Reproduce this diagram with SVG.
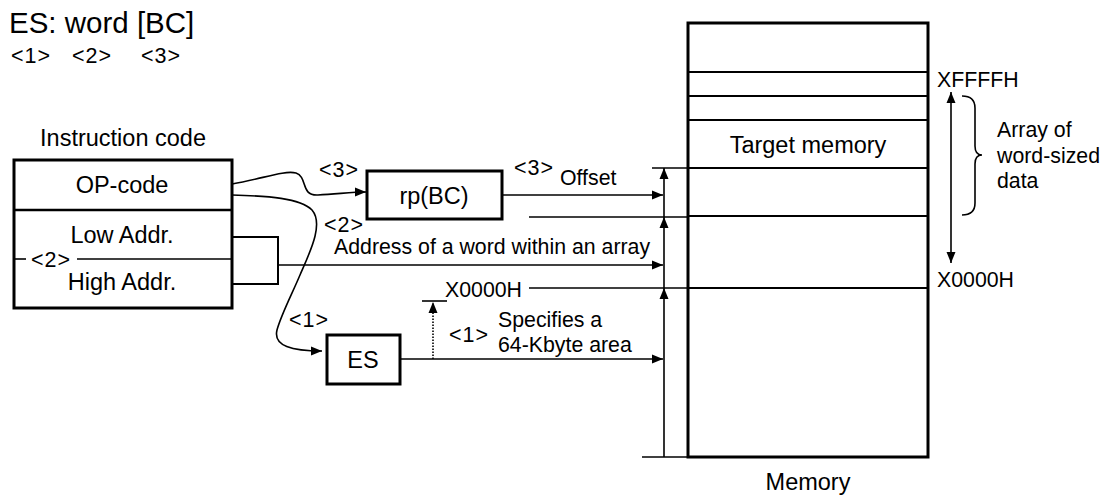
<svg xmlns="http://www.w3.org/2000/svg" width="1102" height="495" viewBox="0 0 1102 495">
<style>
text{font-family:"Liberation Sans",Arial,Helvetica,sans-serif;fill:#000}
.t28{font-size:29.5px}
.t23{font-size:23.5px}
.t21{font-size:21.3px}
.n{font-size:21.5px;letter-spacing:1px}
.box{fill:#fff;stroke:#000;stroke-width:3}
.div{stroke:#000;stroke-width:2.5;fill:none}
.thin{stroke:#000;stroke-width:1.6;fill:none}
.mid{stroke:#000;stroke-width:2;fill:none}
.arr{stroke:#000;stroke-width:1.6;fill:none;marker-end:url(#ah)}
</style>
<defs>
<marker id="ah" markerUnits="userSpaceOnUse" markerWidth="11" markerHeight="10" refX="11" refY="5" orient="auto-start-reverse">
<path d="M0,0.5 L11,5 L0,9.5 z" fill="#000"/>
</marker>
</defs>
<rect width="1102" height="495" fill="#fff"/>

<g id="title">
<text class="t28" x="9" y="33">ES: word [BC]</text>
<text class="n" x="11" y="63">&lt;1&gt;</text>
<text class="n" x="72" y="63">&lt;2&gt;</text>
<text class="n" x="141" y="63">&lt;3&gt;</text>
</g>

<g id="instruction-code">
<text class="t23" x="123" y="146" text-anchor="middle">Instruction code</text>
<rect class="box" x="14" y="160" width="218" height="148"/>
<line class="div" x1="14" y1="210" x2="232" y2="210"/>
<line class="thin" x1="14" y1="259" x2="26" y2="259"/>
<line class="thin" x1="77" y1="259" x2="232" y2="259"/>
<text class="t23" x="122" y="193" text-anchor="middle">OP-code</text>
<text class="t23" x="122" y="243" text-anchor="middle">Low Addr.</text>
<text class="t23" x="122" y="290" text-anchor="middle">High Addr.</text>
<text class="n" x="31" y="267">&lt;2&gt;</text>
</g>

<g id="rp-bc">
<rect class="box" x="367" y="171" width="135" height="48"/>
<text class="t23" x="434" y="204" text-anchor="middle">rp(BC)</text>
</g>

<g id="es">
<rect class="box" x="327" y="335" width="73" height="49"/>
<text class="t23" x="363" y="368" text-anchor="middle">ES</text>
</g>

<g id="memory">
<rect class="box" x="688" y="23" width="240" height="434"/>
<line class="mid" x1="688" y1="72" x2="928" y2="72"/>
<line class="mid" x1="688" y1="96" x2="928" y2="96"/>
<line class="mid" x1="688" y1="120" x2="928" y2="120"/>
<line class="mid" x1="688" y1="168" x2="928" y2="168"/>
<line class="mid" x1="688" y1="216" x2="928" y2="216"/>
<line class="mid" x1="688" y1="288" x2="928" y2="288"/>
<text class="t23" x="808" y="153" text-anchor="middle">Target memory</text>
<text class="t23" x="808" y="490" text-anchor="middle">Memory</text>
<text class="t21" x="937" y="87">XFFFFH</text>
<text class="t21" x="937" y="287">X0000H</text>
<path class="thin" d="M962,96 Q975,96 975,108 L975,146 Q975,155 982,155 Q975,155 975,164 L975,203 Q975,215 962,215"/>
<text class="t21" x="997" y="137">Array of</text>
<text class="t21" x="997" y="163">word-sized</text>
<text class="t21" x="997" y="188">data</text>
</g>

<g id="connectors">
<path class="arr" d="M232,184 C262,179 284,170 296,173 C308,177 300,196 318,195 C338,194 352,192 366,192"/>
<path class="arr" d="M232,195 C268,196 300,198 312,210 C324,224 310,252 300,275 C292,294 281,315 277,330 C273,346 292,351 322,351"/>
<polyline class="mid" points="232,237 278,237 278,284 232,284"/>
<line class="arr" x1="278" y1="265" x2="663" y2="265"/>
<line class="arr" x1="502" y1="195" x2="663" y2="195"/>
<line class="arr" x1="400" y1="359" x2="663" y2="359"/>
<line class="arr" x1="433" y1="359" x2="433" y2="302" stroke-dasharray="1.5,1.5"/>
<line class="thin" x1="422" y1="301" x2="447" y2="301"/>
<text class="t21" x="445" y="297">X0000H</text>
<line class="thin" x1="529" y1="288" x2="688" y2="288"/>
<line class="thin" x1="529" y1="217" x2="688" y2="217"/>
<line class="thin" x1="652" y1="168" x2="688" y2="168"/>
<line class="thin" x1="642" y1="457" x2="688" y2="457"/>
<line class="arr" x1="664" y1="457" x2="664" y2="288"/>
<line class="arr" x1="664" y1="288" x2="664" y2="217"/>
<line class="arr" x1="664" y1="217" x2="664" y2="168"/>
<line class="arr" x1="951" y1="180" x2="951" y2="92"/>
<line class="arr" x1="951" y1="180" x2="951" y2="263"/>
<text class="n" x="319" y="177">&lt;3&gt;</text>
<text class="n" x="514" y="175">&lt;3&gt;</text>
<text class="t21" x="560" y="185">Offset</text>
<text class="n" x="324" y="232">&lt;2&gt;</text>
<text class="t21" x="334" y="254">Address of a word within an array</text>
<text class="n" x="289" y="327">&lt;1&gt;</text>
<text class="n" x="449" y="342">&lt;1&gt;</text>
<text class="t21" x="498" y="327">Specifies a</text>
<text class="t21" x="498" y="352">64-Kbyte area</text>
</g>
</svg>
